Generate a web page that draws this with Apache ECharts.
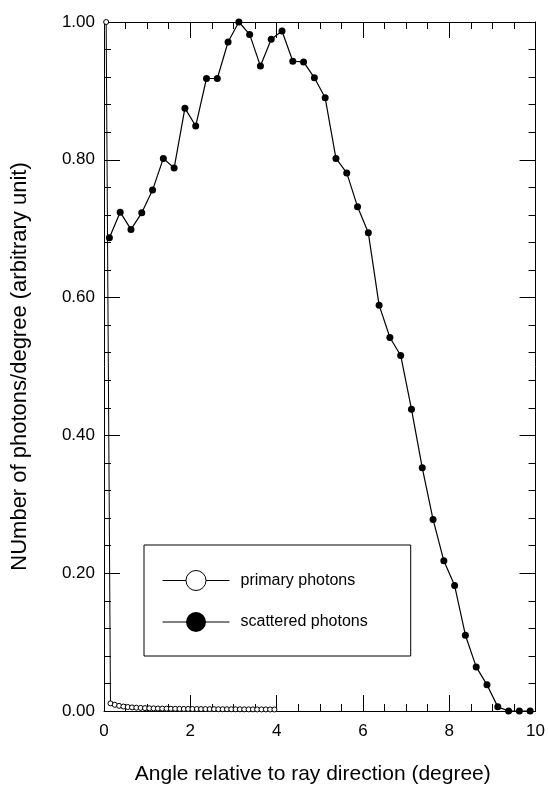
<!DOCTYPE html>
<html>
<head>
<meta charset="utf-8">
<script src="https://cdn.jsdelivr.net/npm/echarts@6/dist/echarts.min.js"></script>
<style>
html,body{margin:0;padding:0;background:#fff;}
#chart{width:548px;height:790px;}
</style>
</head>
<body>
<div id="chart"></div>
<script>
// ---- data ----
var scatteredX = [0.125,0.375,0.625,0.875,1.125,1.375,1.625,1.875,2.125,2.375,
                  2.625,2.875,3.125,3.375,3.625,3.875,4.125,4.375,4.625,4.875,
                  5.125,5.375,5.625,5.875,6.125,6.375,6.625,6.875,7.125,7.375,
                  7.625,7.875,8.125,8.375,8.625,8.875,9.125,9.375,9.625,9.875];
var scatteredY = [0.687,0.724,0.699,0.723,0.756,0.802,0.788,0.875,0.849,0.918,
                  0.918,0.971,1.000,0.982,0.936,0.975,0.987,0.943,0.942,0.919,
                  0.890,0.802,0.781,0.732,0.694,0.589,0.542,0.516,0.438,0.353,
                  0.278,0.218,0.182,0.110,0.064,0.038,0.006,0.000,0.000,0.000];
var primaryX = [0.05,0.15,0.25,0.35,0.45,0.55,0.65,0.75,0.85,0.95,
                1.05,1.15,1.25,1.35,1.45,1.55,1.65,1.75,1.85,1.95,
                2.05,2.15,2.25,2.35,2.45,2.55,2.65,2.75,2.85,2.95,
                3.05,3.15,3.25,3.35,3.45,3.55,3.65,3.75,3.85,3.95];
var primaryY = [1.000,0.011,0.009,0.0075,0.0065,0.0058,0.0052,0.0048,0.0045,0.0042,
                0.0040,0.0038,0.0036,0.0035,0.0034,0.0033,0.0032,0.0031,0.0030,0.0030,
                0.0029,0.0029,0.0028,0.0028,0.0027,0.0027,0.0026,0.0026,0.0026,0.0025,
                0.0025,0.0025,0.0024,0.0024,0.0024,0.0023,0.0023,0.0023,0.0022,0.0022];
var seriesNames = ['primary photons','scattered photons'];
var xTitle = 'Angle relative to ray direction (degree)';
var yTitle = 'NUmber of photons/degree (arbitrary unit)';

function pairs(xs, ys){ return xs.map(function(x,i){ return [x, ys[i]]; }); }

var FONT = 'Liberation Sans, Arial, Helvetica, sans-serif';
var axisLine = {show:true, onZero:false, lineStyle:{color:'#000', width:1}};

function xAx(pos, showLabel){
  return {
    type:'value', position:pos, min:0, max:10, interval:2,
    axisLine:axisLine,
    axisTick:{show:true, inside:true, length:16, lineStyle:{color:'#000'}},
    minorTick:{show:true, splitNumber:4, length:7, lineStyle:{color:'#000'}},
    splitLine:{show:false}, minorSplitLine:{show:false},
    axisLabel:{show:showLabel, color:'#000', fontSize:17, fontFamily:FONT, margin:12},
    name: showLabel ? xTitle : '',
    nameLocation:'middle', nameGap:53,
    nameTextStyle:{color:'#000', fontSize:21, fontFamily:FONT, padding:[0,14,0,0]}
  };
}
function yAx(pos, showLabel){
  return {
    type:'value', position:pos, min:0, max:1, interval:0.2,
    axisLine:axisLine,
    axisTick:{show:true, inside:true, length:16, lineStyle:{color:'#000'}},
    minorTick:{show:true, splitNumber:5, length:7, lineStyle:{color:'#000'}},
    splitLine:{show:false}, minorSplitLine:{show:false},
    axisLabel:{show:showLabel, color:'#000', fontSize:17, fontFamily:FONT, margin:9,
               formatter:function(v){ return v.toFixed(2); }},
    name: showLabel ? yTitle : '',
    nameLocation:'middle', nameGap:73, nameRotate:90,
    nameTextStyle:{color:'#000', fontSize:22, fontFamily:FONT}
  };
}

var chart = echarts.init(document.getElementById('chart'), null, {renderer:'canvas'});
chart.setOption({
  backgroundColor:'#fff',
  animation:false,
  grid:{left:104, right:12, top:22, bottom:77, containLabel:false},
  xAxis:[xAx('bottom', true), xAx('top', false)],
  yAxis:[yAx('left', true), yAx('right', false)],
  legend:{
    orient:'vertical', left:144, top:545,
    data:seriesNames,
    itemWidth:67, itemHeight:25, itemGap:21,
    padding:[25,43,24,18],
    borderColor:'#000', borderWidth:1,
    backgroundColor:'#fff',
    textStyle:{color:'#000', fontSize:16, fontFamily:FONT, padding:[0,0,0,6]},
    itemStyle:{borderWidth:1},
    lineStyle:{width:1},
    selectedMode:false
  },
  series:[
    {
      name:seriesNames[0], type:'line', xAxisIndex:0, yAxisIndex:0,
      data:pairs(primaryX, primaryY),
      symbol:'circle', symbolSize:5, clip:false, z:3,
      itemStyle:{color:'#fff', borderColor:'#000', borderWidth:1},
      lineStyle:{color:'#000', width:1}
    },
    {
      name:seriesNames[1], type:'line', xAxisIndex:0, yAxisIndex:0,
      data:pairs(scatteredX, scatteredY),
      symbol:'circle', symbolSize:7, clip:false, z:4,
      itemStyle:{color:'#000'},
      lineStyle:{color:'#000', width:1.2}
    }
  ]
});
</script>
</body>
</html>
